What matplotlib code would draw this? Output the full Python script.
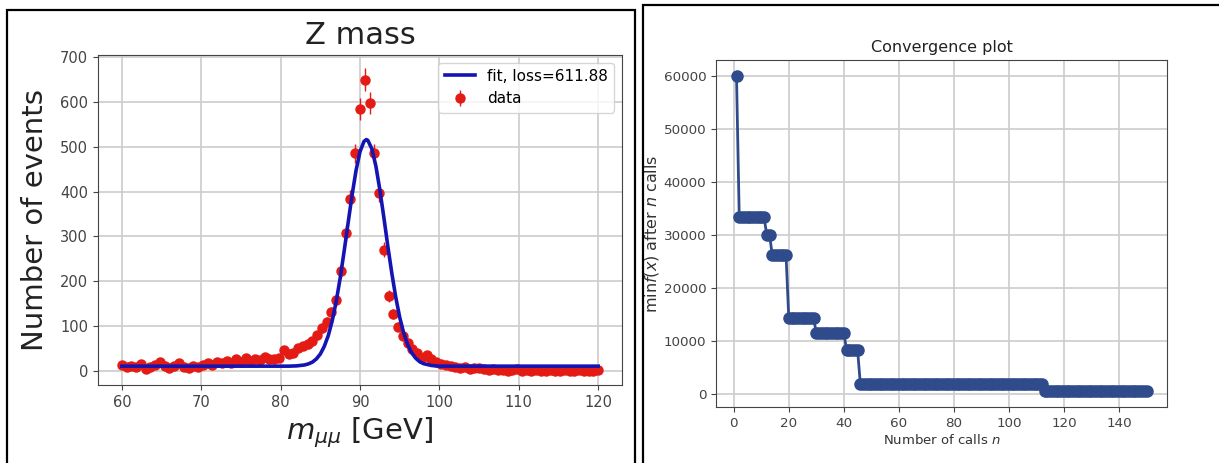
import numpy as np
import matplotlib.pyplot as plt
from matplotlib.patches import Rectangle

# ---- left panel: Z mass peak ----
# mass points every 0.6 GeV from 60 to 120 GeV
mass_lo, mass_hi, n_points = 60, 120, 101
counts = [14, 10, 12, 9, 15, 4, 10, 14, 20, 12,
          8, 12, 18, 10, 7, 12, 10, 14, 17, 13,
          20, 17, 22, 19, 26, 21, 30, 22, 28, 25,
          31, 28, 26, 30, 46, 38, 40, 52, 55, 60,
          68, 80, 95, 110, 132, 158, 223, 308, 383, 485,
          584, 649, 597, 485, 397, 271, 167, 128, 99, 78,
          62, 50, 40, 30, 35, 28, 20, 16, 14, 12,
          10, 7, 9, 5, 6, 8, 4, 3, 5, 2,
          3, 1, 2, 4, 1, 3, 0, 2, 1, 0,
          2, 1, 0, 3, 1, 0, 2, 1, 0, 1,
          2]

# fit curve
fit_mass = [60, 70, 80, 81, 82, 83, 83.5, 84, 84.5, 85, 85.5, 86, 86.5, 87,
            87.5, 88, 88.5, 89, 89.5, 90, 90.5, 90.8, 91, 91.5, 92, 92.5, 93,
            93.5, 94, 94.5, 95, 95.5, 96, 96.5, 97, 97.5, 98, 99, 100, 110, 120]
fit_events = [11, 11, 11, 11, 11.6, 13.6, 16, 20, 27, 38, 55, 79, 112, 155,
              207, 267, 330, 392, 447, 489, 512, 516, 514, 495, 457, 404, 343,
              279, 219, 165, 120, 85, 59, 41, 29, 21, 16.6, 12.5, 11, 11, 11]
fit_label = "fit, loss=611.88"

# ---- right panel: convergence ----
step_first_call = [1, 2, 12, 14, 20, 30, 41, 46, 113]
step_min_value = [60000, 33300, 30000, 26200, 14300, 11500, 8300, 1900, 500]
last_call = 150

W, H = 1219, 463
fig = plt.figure(figsize=(W / 100, H / 100), dpi=100)

grid_kw = dict(color="#cccccc", linewidth=1.2)
spine_col = "#444444"

# left axes
ax1 = fig.add_axes([98 / W, (H - 385) / H, 524 / W, 330 / H])
mass = np.linspace(mass_lo, mass_hi, n_points)
counts = np.array(counts, dtype=float)
ax1.errorbar(mass, counts, yerr=np.sqrt(counts), fmt="o", color="#e41a14",
             ecolor="#e41a14", markersize=6.5, elinewidth=1, label="data", zorder=2)
ax1.plot(fit_mass, fit_events, color="#1414b4", linewidth=2.6, label=fit_label, zorder=3)
ax1.set_xlim(57, 123)
ax1.set_ylim(-31, 704.5)
ax1.set_xticks(range(60, 121, 10))
ax1.set_yticks(range(0, 701, 100))
ax1.grid(True, **grid_kw)
ax1.set_axisbelow(True)
ax1.tick_params(labelsize=10.5, colors="#444444")
ax1.set_title("Z mass", fontsize=22, color="#222222", pad=8)
ax1.set_xlabel(r"$m_{\mu\mu}$ [GeV]", fontsize=21, color="#222222")
ax1.set_ylabel("Number of events", fontsize=21, color="#222222", labelpad=8)
ax1.legend(loc="upper right", fontsize=11)
for s in ax1.spines.values():
    s.set_color(spine_col)

# right axes
ax2 = fig.add_axes([716 / W, (H - 407) / H, 451 / W, 347 / H])
lengths = np.diff(step_first_call + [last_call + 1])
mins = np.repeat(step_min_value, lengths)
calls = np.arange(1, last_call + 1)
ax2.plot(calls, mins, color="#2f4b8c", marker="o", markersize=8, linewidth=2)
ax2.set_xticks(range(0, 141, 20))
ax2.set_yticks(range(0, 60001, 10000))
ax2.grid(True, **grid_kw)
ax2.set_axisbelow(True)
ax2.tick_params(labelsize=9.7, colors="#444444")
ax2.set_title("Convergence plot", fontsize=11.5, color="#222222")
ax2.set_xlabel("Number of calls $n$", fontsize=9.5, color="#333333", labelpad=2)
ax2.set_ylabel(r"$\min f(x)$ after $n$ calls", fontsize=11.5, color="#333333",
               labelpad=2)
for s in ax2.spines.values():
    s.set_color(spine_col)

# black frames around the two panels
fig.add_artist(Rectangle((7 / W, -0.05), (635 - 7) / W, (H - 10) / H + 0.05,
                         transform=fig.transFigure, fill=False,
                         edgecolor="black", linewidth=1.6))
fig.add_artist(Rectangle((643 / W, -0.05), 0.6, (H - 5) / H + 0.05,
                         transform=fig.transFigure, fill=False,
                         edgecolor="black", linewidth=1.6))

fig.savefig("out.png", dpi=100)
